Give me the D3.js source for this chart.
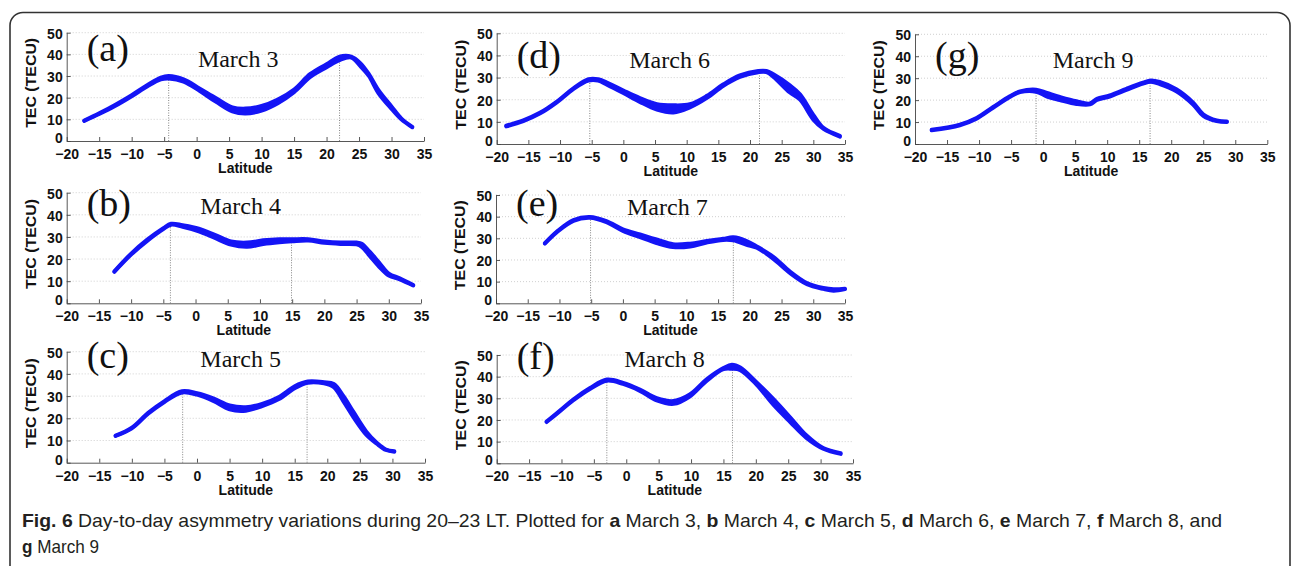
<!DOCTYPE html>
<html><head><meta charset="utf-8">
<script src="https://cdn.jsdelivr.net/npm/d3@7"></script>
<style>
html,body{margin:0;padding:0;background:#fff;}
svg{display:block;}
</style></head>
<body>
<svg id="chart" width="1295" height="566"></svg>
<script>
// ---------- DATA ----------
const xTicks = [-20,-15,-10,-5,0,5,10,15,20,25,30,35];
const yTicks = [0,10,20,30,40,50];
const panelLetters = ["(a)","(b)","(c)","(d)","(e)","(f)","(g)"];
const dateLabels = ["March 3","March 4","March 5","March 6","March 7","March 8","March 9"];

const latA = [-17.3,-15,-12.5,-10,-7.5,-5.5,-4.3,-2,0.5,3,5.5,7.5,10,12.5,15,17.5,20,22,23.8,25.2,26.5,28,30,31.5,33.2];
const hiA  = [9.5,12.8,16.8,21.2,26,29.3,30,28.5,24.2,19.8,15.6,15,16.2,19.2,23.8,31,35.5,39,39,36,31,23.5,16,10.5,6.6];
const loA  = [9.2,12.4,16.2,20.6,25.4,28.4,28.8,27.4,23,18,13.6,12.6,14,17.4,22.5,29.5,34,37.3,38.5,34.5,30,22,14.8,10,6.3];

const latB = [-12.6,-10,-7.5,-5,-3.8,-2,0.5,3,5.5,8,10.5,13,15,17.5,20,22.5,25,25.8,27,28.5,30,31.7,33.8];
const hiB  = [14.5,22.5,28.8,34,36,35.3,33.8,31,28,27.5,28.5,29,29,29,28,27.5,27.5,27,23.5,18.5,13.5,11.3,8.3];
const loB  = [14.2,22,28.2,33.5,35.5,34.5,32.5,29.5,26.5,25.5,26.8,27.6,28,28.3,27.3,26.8,26.6,25.5,21.5,16.5,12.5,10.8,8];

const latC = [-12.5,-10,-7.5,-5,-2.3,0,2.5,5,7.5,10,12.5,15,17,19.5,21,22.5,24,26,27.6,29,30.3];
const hiC  = [12.2,15.8,22.5,27.8,32.2,31.3,29,25.8,25,26.5,29.5,34.5,36.6,36.3,35.5,30,23,14,9,6,5.2];
const loC  = [12,15.4,22,27.3,31.6,30.6,27.8,24,23.4,25.5,28.5,33.5,36,35.7,34,27.5,20.5,12.5,8.5,5.7,4.9];

const latD = [-18.5,-15.8,-13.2,-10.5,-7.9,-5.5,-4,-2.6,0,2.6,5.3,7.9,10.5,13.2,15.8,18.4,21.3,22.6,23.7,26.3,27.9,30,31.6,34.2];
const hiD  = [8.3,10.7,14.1,19.2,25.2,29.3,29.3,27.8,24.2,20.8,18,17.5,18,21.8,27,31,33,33,31.5,26.5,22.5,13.2,7.3,3.7];
const loD  = [7.9,10.3,13.7,18.8,24.8,28.6,28.6,26.8,23,19,15.5,14.2,16.5,20.8,26.3,30.3,32.4,32.4,30.3,23.2,20,11,6.8,3.3];

const latE = [-12.3,-10.4,-7.8,-5.2,-2.6,0,2.7,5.3,7.9,10.6,13.2,15.8,17.4,19.5,21.1,23.7,26.3,29,31.6,33.2,35];
const hiE  = [27.8,33.2,38.5,39.9,38,34.2,31.8,29.5,27.3,27.6,28.8,29.8,30.5,28.8,26.3,21.5,14.8,9.4,7.1,6.5,6.8];
const loE  = [27.5,32.8,38,39.4,37.4,33.4,30.5,27.8,25.9,26.2,28,29.2,29,27,25.6,20.5,14,8.8,6.6,5.8,6.5];

const latF = [-12.3,-10,-8.2,-5.6,-3,-0.5,2.1,4.7,7.3,9.8,12.4,15,16.3,17.6,20.1,22.7,25.3,27.8,30.4,33.1];
const hiF  = [19.3,25,29.5,34.8,38.7,37.2,34.1,30.1,28.8,31.8,38.8,44,45.6,44.3,37.5,29.8,21.3,13,7.1,4.7];
const loF  = [19,24.6,29,34.3,38.1,36.6,33.4,29,27.4,30.8,38,43.4,43.6,43,36.3,27,19,11.7,6.7,4.3];

const latG = [-17.4,-13,-10.4,-7.8,-5.2,-3.6,-1.1,0.6,2.6,5.2,7.3,8.4,10.4,13,15.6,16.8,18.2,20.8,23.4,25,27.1,28.7];
const hiG  = [6.5,8.9,11.9,16.9,21.8,24,24.8,23.3,21.5,19.5,18.5,20.6,22.2,25.2,28,29,28.3,25,19,13.6,10.8,10.3];
const loG  = [6.2,8.5,11.5,16.5,21.4,23.6,23.8,21.6,20,18.2,18,20,21.6,24.6,27.5,28.3,27.3,24,18,12.8,10.4,10];

// crest (peak) latitude and TEC for the dotted markers
const peakLat = [[-4.3,22.0],[-3.9,14.9],[-2.2,16.9],[-5.3,21.5],[-5.1,17.4],[-3.0,16.4],[-1.1,16.7]];
const peakTec = [[29.5,38.5],[35.8,28.5],[31.8,36.2],[29.0,32.7],[39.6,29.8],[38.4,44.5],[24.3,28.7]];

// ---------- LAYOUT ----------
const layout = [
  {L:66.7, R:424,   T:32.7,  B:141,   lb:28, mx:6.4, mb:34},
  {L:66.7, R:421,   T:192.7, B:303.3, lb:23, mx:7.0, mb:21},
  {L:66.7, R:425,   T:351.7, B:462.7, lb:16, mx:6.7, mb:15},
  {L:496.7,R:845,   T:33.3,  B:144,   lb:35, mx:7.3, mb:35},
  {L:496,  R:845,   T:195,   B:303.3, lb:21, mx:7.0, mb:20},
  {L:496.7,R:853,   T:355,   B:463.3, lb:14, mx:5.9, mb:12},
  {L:915,  R:1267.3,T:34.3,  B:144,   lb:34, mx:7.8, mb:34}
];
const series = [[latA,hiA,loA],[latB,hiB,loB],[latC,hiC,loC],[latD,hiD,loD],[latE,hiE,loE],[latF,hiF,loF],[latG,hiG,loG]];

const BLUE = "#1414f5";
const svg = d3.select("#chart");

// outer frame
svg.append("rect").attr("x",10).attr("y",12.5).attr("width",1280).attr("height",620)
  .attr("rx",13).attr("fill","none").attr("stroke","#333").attr("stroke-width",1.6);

layout.forEach((p,i)=>{
  const x = d3.scaleLinear().domain([-20,35]).range([p.L,p.R]);
  const y = d3.scaleLinear().domain([0,50]).range([p.B,p.T]);
  const g = svg.append("g");

  // horizontal dotted gridlines
  g.selectAll("line.grid").data(yTicks.filter(v=>v>0)).join("line")
    .attr("x1",p.L).attr("x2",p.R).attr("y1",d=>y(d)).attr("y2",d=>y(d))
    .attr("stroke","#c4c4c4").attr("stroke-width",0.8).attr("stroke-dasharray","1,2");

  // axes
  const xa = d3.axisBottom(x).tickValues(xTicks).tickSizeInner(-4).tickSizeOuter(0).tickPadding(8);
  const ya = d3.axisLeft(y).tickValues(yTicks).tickSizeInner(-4).tickSizeOuter(0).tickPadding(4);
  const gx = g.append("g").attr("transform",`translate(0,${p.B})`).call(xa);
  const gy = g.append("g").attr("transform",`translate(${p.L},0)`).call(ya);
  [gx,gy].forEach(a=>{
    a.select(".domain").attr("stroke","#444").attr("stroke-width",0.9);
    a.selectAll(".tick line").attr("stroke","#444").attr("stroke-width",0.9);
    a.selectAll("text").attr("font-family","Liberation Sans, Arial, sans-serif")
      .attr("font-weight","bold").attr("font-size",14).attr("fill","#111");
  });
  gy.selectAll(".tick text").attr("dy",d=>d===0?"0.1em":"0.38em");

  // axis titles
  g.append("text").attr("x",(p.L+p.R)/2).attr("y",p.B+32).attr("text-anchor","middle")
    .attr("font-family","Liberation Sans, Arial, sans-serif").attr("font-weight","bold")
    .attr("font-size",14).attr("fill","#111").text("Latitude");
  g.append("text").attr("transform",`translate(${p.L-31},${(p.T+p.B)/2-4}) rotate(-90)`)
    .attr("text-anchor","middle").attr("font-family","Liberation Sans, Arial, sans-serif")
    .attr("font-weight","bold").attr("font-size",14.5).attr("fill","#111")
    .attr("textLength",90).attr("lengthAdjust","spacingAndGlyphs").text("TEC (TECU)");

  // dotted vertical markers at the crests
  peakLat[i].forEach((pl,k)=>{
    g.append("line").attr("x1",x(pl)).attr("x2",x(pl)).attr("y1",y(0)).attr("y2",y(peakTec[i][k]))
      .attr("stroke","#777").attr("stroke-width",0.9).attr("stroke-dasharray","1,1.5");
  });

  // blue band of curves
  const [lat,hi,lo] = series[i];
  const pts = lat.map((v,j)=>({x:v,h:hi[j],l:lo[j]}));
  const area = d3.area().x(d=>x(d.x)).y0(d=>y(d.l)).y1(d=>y(d.h)).curve(d3.curveCatmullRom);
  g.append("path").datum(pts).attr("d",area).attr("fill",BLUE);
  const lineH = d3.line().x(d=>x(d.x)).y(d=>y(d.h)).curve(d3.curveCatmullRom);
  const lineL = d3.line().x(d=>x(d.x)).y(d=>y(d.l)).curve(d3.curveCatmullRom);
  [lineH,lineL].forEach(ln=>{
    g.append("path").datum(pts).attr("d",ln).attr("fill","none").attr("stroke",BLUE)
      .attr("stroke-width",3.8).attr("stroke-linejoin","round").attr("stroke-linecap","round");
  });

  // panel titles
  g.append("text").attr("x",p.L+20).attr("y",p.T+p.lb)
    .attr("font-family","Liberation Serif, Times New Roman, serif").attr("font-size",38)
    .attr("fill","#111").text(panelLetters[i]);
  g.append("text").attr("x",x(p.mx)).attr("y",p.T+p.mb).attr("text-anchor","middle")
    .attr("font-family","Liberation Serif, Times New Roman, serif").attr("font-size",24)
    .attr("fill","#111").text(dateLabels[i]);
});

// caption
const capFont = "'Liberation Sans Narrow', 'Arial Narrow', 'Liberation Sans', sans-serif";
const line1 = [["Fig. 6",true],[" Day-to-day asymmetry variations during 20–23 LT. Plotted for ",false],
  ["a",true],[" March 3, ",false],["b",true],[" March 4, ",false],["c",true],[" March 5, ",false],
  ["d",true],[" March 6, ",false],["e",true],[" March 7, ",false],["f",true],[" March 8, and",false]];
const line2 = [["g",true],[" March 9",false]];
function cap(parts,y,len){
  const t = svg.append("text").attr("x",22).attr("y",y).attr("font-family",capFont)
    .attr("font-size",18.5).attr("fill","#231f20").attr("xml:space","preserve")
    .attr("textLength",len).attr("lengthAdjust","spacingAndGlyphs");
  parts.forEach(([s,b])=>t.append("tspan").attr("font-weight",b?"bold":"normal").text(s));
}
cap(line1,527,1200);
cap(line2,553,77);
</script>
</body></html>
